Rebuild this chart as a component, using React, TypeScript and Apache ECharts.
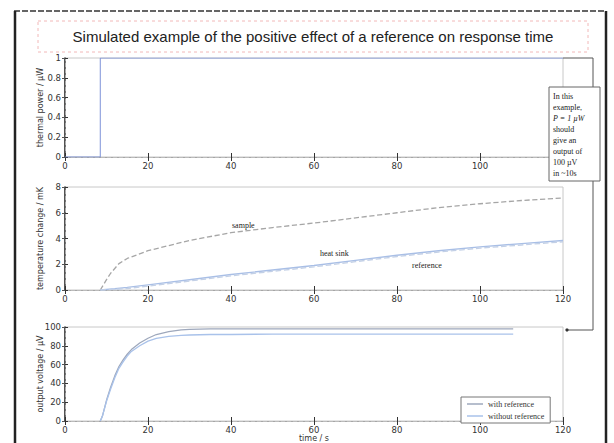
import React, { useEffect, useRef } from "react";
import * as echarts from "echarts";

const titleText = "Simulated example of the positive effect of a reference on response time";

// Panel 1: thermal power step
const powerT = [0, 8.5, 8.5, 120];
const powerV = [0, 0, 1, 1];

// Panel 2: temperature change
const sampleT = [8.5, 10, 11, 13, 15, 20, 25, 30, 40, 50, 60, 70, 80, 90, 100, 110, 120];
const sampleV = [0, 0.8, 1.3, 2.05, 2.45, 3.05, 3.45, 3.85, 4.45, 4.85, 5.2, 5.6, 6.0, 6.4, 6.7, 6.95, 7.15];
const sinkT = [8.5, 12, 15, 20, 30, 40, 50, 60, 70, 80, 90, 100, 110, 120];
const sinkV = [0, 0.1, 0.2, 0.4, 0.8, 1.2, 1.55, 1.9, 2.3, 2.7, 3.05, 3.35, 3.6, 3.85];
const refV = [0, 0.05, 0.12, 0.3, 0.7, 1.1, 1.45, 1.8, 2.2, 2.6, 2.95, 3.25, 3.5, 3.75];

// Panel 3: output voltage
const outT = [8.5, 9, 10, 11, 12, 13, 14, 15, 16, 18, 20, 22, 25, 28, 30, 35, 40, 50, 60, 80, 100, 108];
const withRef = [0, 5, 22, 36, 48, 58, 65, 71, 76, 83, 88, 92, 95, 97, 97.5, 98, 98, 98, 98, 98, 98, 98];
const withoutRef = [0, 5, 21, 34, 46, 56, 63, 69, 74, 80, 85, 88, 90, 91, 91.5, 92, 92, 92.5, 92.5, 92.5, 92.5, 92.5];

const xTicks = { min: 0, max: 120, interval: 20 };
const noteLines = ["In this", "example,", "P = 1 µW", "should", "give an", "output of", "100 µV", "in ~10s"];

const pairs = (xs: number[], ys: number[]) => xs.map((x, i) => [x, ys[i]]);

export default function App() {
  const ref = useRef<HTMLDivElement>(null);
  useEffect(() => {
    const chart = echarts.init(ref.current!, null, { renderer: "svg" });
    const grids = [
      { left: 65, top: 58, width: 498, height: 99 },
      { left: 65, top: 187, width: 498, height: 103 },
      { left: 65, top: 327, width: 498, height: 100 },
    ].map((g) => ({ ...g, show: true, borderColor: "#c8c8c8", borderWidth: 1, backgroundColor: "transparent" }));

    const labelStyle = { fontSize: 8.5, color: "#333", fontFamily: "DejaVu Sans" };
    const xAxes: any[] = [];
    const yAxes: any[] = [];
    const yCfg = [
      { min: 0, max: 1, interval: 0.2, name: "thermal power / µW" },
      { min: 0, max: 8, interval: 2, name: "temperature change / mK" },
      { min: 0, max: 100, interval: 20, name: "output voltage / µV" },
    ];
    for (let i = 0; i < 3; i++) {
      xAxes.push({
        type: "value", gridIndex: i, ...xTicks, position: "bottom",
        axisLine: { show: true, lineStyle: { color: "#999" } },
        axisTick: { inside: true, length: 4, lineStyle: { color: "#333" } },
        axisLabel: {
          ...labelStyle, margin: 4,
          formatter: (v: number) => (i === 0 && v === 120 ? "" : String(v)),
        },
        splitLine: { show: false },
        name: i === 2 ? "time / s" : "",
        nameLocation: "middle", nameGap: 13, nameMoveOverlap: false,
        nameTextStyle: { fontSize: 8, color: "#333", fontFamily: "DejaVu Sans" },
      });
      xAxes.push({
        type: "value", gridIndex: i, ...xTicks, position: "top",
        axisLine: { show: true, lineStyle: { color: "#bbb", type: "dashed" } },
        axisTick: { inside: true, length: 4, lineStyle: { color: "#333" } },
        axisLabel: { show: false }, splitLine: { show: false },
      });
      yAxes.push({
        type: "value", gridIndex: i, min: yCfg[i].min, max: yCfg[i].max, interval: yCfg[i].interval,
        position: "left",
        axisLine: { show: true, lineStyle: { color: "#222", width: 1.5 } },
        axisTick: { show: true, inside: true, length: 3, lineStyle: { color: "#333" } },
        axisLabel: { ...labelStyle, margin: 4 },
        splitLine: { show: false },
        name: yCfg[i].name, nameLocation: "middle", nameRotate: 90, nameGap: 21, nameMoveOverlap: false,
        nameTextStyle: { fontSize: 8, color: "#333", fontFamily: "DejaVu Sans" },
      });
      yAxes.push({
        type: "value", gridIndex: i, min: yCfg[i].min, max: yCfg[i].max, interval: yCfg[i].interval,
        position: "right",
        axisLine: { show: true, lineStyle: { color: "#aaa", type: "dashed" } },
        axisTick: { show: true, inside: true, length: 3, lineStyle: { color: "#555" } },
        axisLabel: { show: false }, splitLine: { show: false },
      });
    }

    const line = (name: string, xi: number, yi: number, data: number[][], color: string, w = 1.2, type = "solid") => ({
      name, type: "line", xAxisIndex: xi, yAxisIndex: yi, data, symbol: "none",
      lineStyle: { color, width: w, type }, itemStyle: { color }, z: 3,
    });

    const txt = (x: number, y: number, t: string, extra: any = {}) => ({
      type: "text", x, y, z: 100,
      style: { text: t, fill: "#222", font: "8px 'Liberation Serif'", ...extra },
    });

    chart.setOption({
      animation: false,
      backgroundColor: "#ffffff",
      grid: grids,
      xAxis: xAxes,
      yAxis: yAxes,
      legend: {
        data: [
          { name: "with reference", icon: "rect" },
          { name: "without reference", icon: "rect" },
        ],
        orient: "vertical", left: 461, top: 397,
        itemWidth: 16, itemHeight: 1.5, itemGap: 4,
        backgroundColor: "#fff", borderColor: "#777", borderWidth: 1, padding: [3, 6, 3, 6],
        textStyle: { fontSize: 8, color: "#333", fontFamily: "Liberation Serif" },
      },
      series: [
        line("power", 0, 0, pairs(powerT, powerV), "#7d92d8", 1),
        line("sample", 2, 2, pairs(sampleT, sampleV), "#a6a6a6", 1.3, "dashed"),
        line("heat sink", 2, 2, pairs(sinkT, sinkV), "#a9bfe6", 1.4),
        line("reference", 2, 2, pairs(sinkT, refV), "#c3d0e6", 1.4, "dashed"),
        line("with reference", 4, 4, pairs(outT, withRef), "#9ea8bc", 1.3),
        line("without reference", 4, 4, pairs(outT, withoutRef), "#a9c2ea", 1.3),
      ],
      graphic: [
        { type: "line", z: 100, shape: { x1: 14, y1: 11, x2: 606, y2: 11 }, style: { stroke: "#333", lineWidth: 1.5, lineDash: [6, 2] } },
        { type: "line", z: 100, shape: { x1: 15, y1: 11, x2: 15, y2: 443 }, style: { stroke: "#222", lineWidth: 2.5 } },
        { type: "line", z: 100, shape: { x1: 606, y1: 11, x2: 606, y2: 443 }, style: { stroke: "#222", lineWidth: 2.5 } },
        { type: "rect", z: 100, shape: { x: 38, y: 21, width: 550, height: 31 }, style: { fill: "none", stroke: "#f2b8b8", lineDash: [3, 3], lineWidth: 1 } },
        { type: "text", z: 100, x: 313, y: 36, style: { text: titleText, fill: "#222", font: "15px 'Liberation Sans'", textAlign: "center", textVerticalAlign: "middle" } },
        { type: "polyline", z: 100, shape: { points: [[563, 58], [593, 58], [593, 87]] }, style: { stroke: "#555", lineWidth: 1, fill: "none" } },
        { type: "polyline", z: 100, shape: { points: [[593, 181], [593, 330], [567, 330]] }, style: { stroke: "#555", lineWidth: 1, fill: "none" } },
        { type: "circle", z: 100, shape: { cx: 567, cy: 330, r: 1.6 }, style: { fill: "#333" } },
        { type: "rect", z: 100, shape: { x: 549, y: 87, width: 51, height: 94 }, style: { fill: "#fff", stroke: "#666", lineWidth: 1 } },
        ...noteLines.map((t, i) => txt(553, 92 + i * 11, t, i === 2 ? { font: "italic 8px 'Liberation Serif'" } : {})),
        txt(232, 221, "sample", { font: "8px 'Liberation Serif'", rotation: 0.12 }),
        txt(320, 249, "heat sink", { font: "8px 'Liberation Serif'", rotation: 0.15 }),
        txt(412, 261, "reference", { font: "8px 'Liberation Serif'", rotation: 0.15 }),
      ],
    });
    return () => chart.dispose();
  }, []);
  return <div ref={ref} style={{ position: "fixed", left: 0, top: 0, width: 614, height: 443 }} />;
}
